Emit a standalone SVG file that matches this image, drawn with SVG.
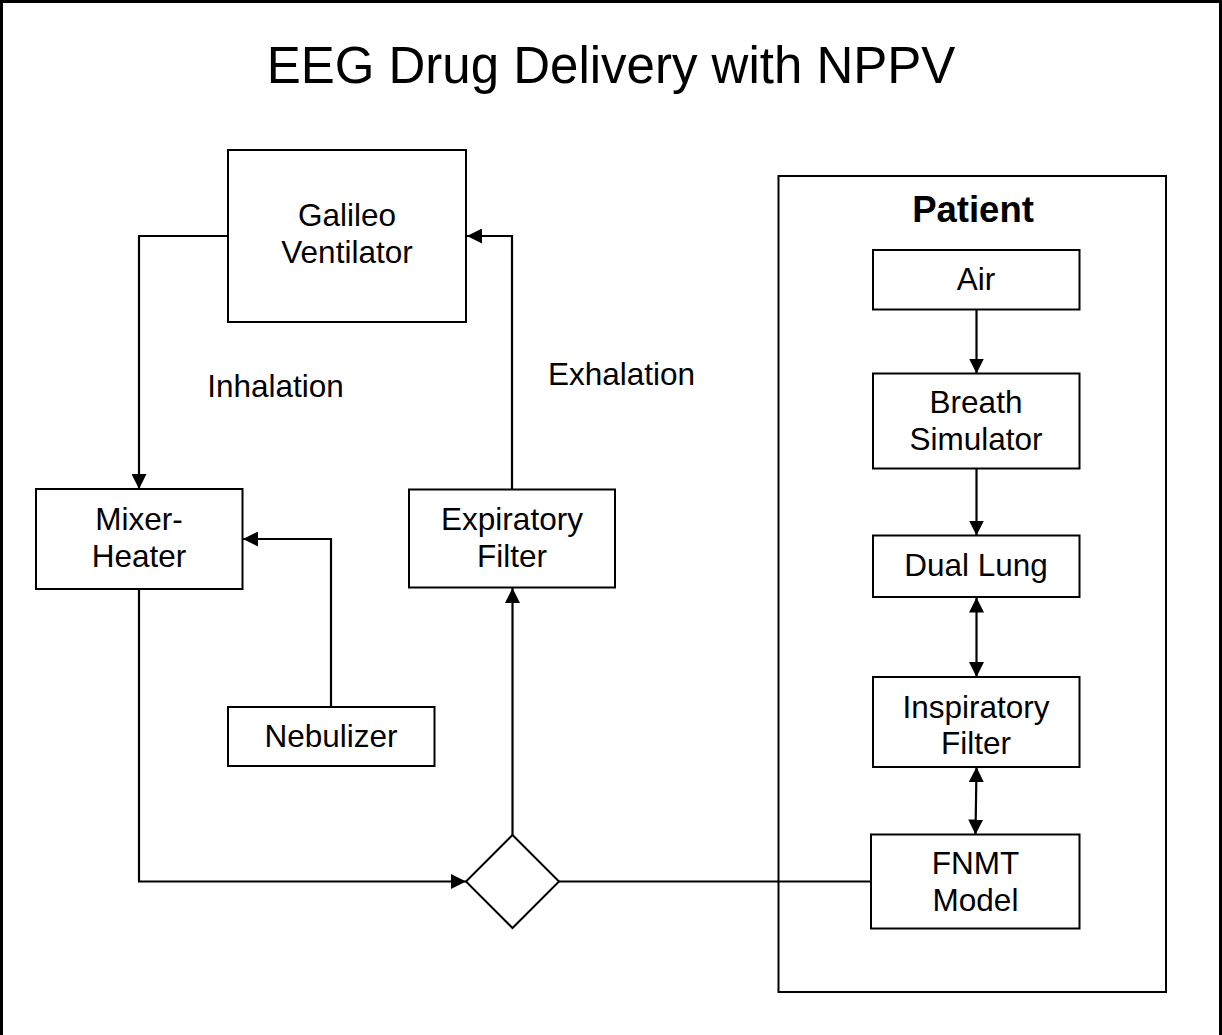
<svg xmlns="http://www.w3.org/2000/svg" width="1222" height="1035" viewBox="0 0 1222 1035">
  <style>
    .box { fill: #ffffff; stroke: #000000; stroke-width: 2; }
    .wire { fill: none; stroke: #000000; stroke-width: 2.2; }
    .lbl { font-family: "Liberation Sans", Arial, sans-serif; font-size: 31.5px; fill: #000000; text-anchor: middle; }
    .title { font-family: "Liberation Sans", Arial, sans-serif; font-size: 51px; fill: #000000; text-anchor: middle; }
    .head { font-family: "Liberation Sans", Arial, sans-serif; font-size: 36.5px; font-weight: bold; fill: #000000; text-anchor: middle; }
  </style>
  <defs>
    <marker id="arrow" markerUnits="userSpaceOnUse" markerWidth="15" markerHeight="15" refX="15" refY="7.5" orient="auto-start-reverse">
      <path d="M0,0 L15,7.5 L0,15 Z" fill="#000000"/>
    </marker>
  </defs>

  <rect x="0" y="0" width="1222" height="1035" fill="#ffffff"/>
  <!-- outer frame (open at the bottom edge) -->
  <rect x="1.5" y="1.5" width="1219" height="1050" fill="none" stroke="#000000" stroke-width="3"/>

  <text class="title" x="611" y="83">EEG Drug Delivery with NPPV</text>

  <!-- patient enclosure -->
  <g id="patient">
    <rect class="box" x="778.5" y="176" width="387.5" height="816"/>
    <text class="head" x="973" y="222">Patient</text>
  </g>

  <!-- connectors -->
  <g id="connectors">
    <!-- inhalation: ventilator to mixer-heater -->
    <polyline class="wire" points="228,236 139,236 139,489" marker-end="url(#arrow)"/>
    <!-- exhalation: expiratory filter to ventilator -->
    <polyline class="wire" points="512,489 512,236 467,236" marker-end="url(#arrow)"/>
    <!-- nebulizer to mixer-heater -->
    <polyline class="wire" points="331,707 331,539 243,539" marker-end="url(#arrow)"/>
    <!-- mixer-heater to junction -->
    <polyline class="wire" points="139,589 139,881.5 466,881.5" marker-end="url(#arrow)"/>
    <!-- junction to expiratory filter -->
    <line class="wire" x1="512.5" y1="835" x2="512.5" y2="588" marker-end="url(#arrow)"/>
    <!-- junction to FNMT model -->
    <line class="wire" x1="559" y1="881.5" x2="871" y2="881.5"/>
    <!-- patient chain -->
    <line class="wire" x1="976.5" y1="309.5" x2="976.5" y2="373.5" marker-end="url(#arrow)"/>
    <line class="wire" x1="976.5" y1="468.5" x2="976.5" y2="535.5" marker-end="url(#arrow)"/>
    <line class="wire" x1="976.5" y1="597.5" x2="976.5" y2="677" marker-start="url(#arrow)" marker-end="url(#arrow)"/>
    <line class="wire" x1="976.5" y1="767" x2="975.5" y2="834.5" marker-start="url(#arrow)" marker-end="url(#arrow)"/>
  </g>

  <text class="lbl" x="275.5" y="396.5">Inhalation</text>
  <text class="lbl" x="621.5" y="385">Exhalation</text>

  <g id="galileo">
    <rect class="box" x="228" y="150" width="238" height="172"/>
    <text class="lbl" x="347" y="226">Galileo</text>
    <text class="lbl" x="347" y="263">Ventilator</text>
  </g>

  <g id="mixer">
    <rect class="box" x="36" y="489" width="206.5" height="100"/>
    <text class="lbl" x="139" y="530">Mixer-</text>
    <text class="lbl" x="139" y="566.5">Heater</text>
  </g>

  <g id="nebulizer">
    <rect class="box" x="228" y="707" width="206.5" height="59"/>
    <text class="lbl" x="331" y="746.5">Nebulizer</text>
  </g>

  <g id="expiratory">
    <rect class="box" x="409" y="489.5" width="206" height="98"/>
    <text class="lbl" x="512" y="530">Expiratory</text>
    <text class="lbl" x="512" y="566.5">Filter</text>
  </g>

  <g id="junction">
    <polygon class="box" points="512.5,835 559,881.5 512.5,928 466,881.5"/>
  </g>

  <g id="air">
    <rect class="box" x="873" y="250" width="206.5" height="59.5"/>
    <text class="lbl" x="976" y="290">Air</text>
  </g>

  <g id="breath">
    <rect class="box" x="873" y="373.5" width="206.5" height="95"/>
    <text class="lbl" x="976" y="413">Breath</text>
    <text class="lbl" x="976" y="450">Simulator</text>
  </g>

  <g id="dual-lung">
    <rect class="box" x="873" y="535.5" width="206.5" height="61.5"/>
    <text class="lbl" x="976" y="576">Dual Lung</text>
  </g>

  <g id="inspiratory">
    <rect class="box" x="873" y="677" width="206.5" height="90"/>
    <text class="lbl" x="976" y="717.5">Inspiratory</text>
    <text class="lbl" x="976" y="753.5">Filter</text>
  </g>

  <g id="fnmt">
    <rect class="box" x="871" y="834.5" width="208.5" height="94"/>
    <text class="lbl" x="975.5" y="874">FNMT</text>
    <text class="lbl" x="975.5" y="911">Model</text>
  </g>
</svg>
